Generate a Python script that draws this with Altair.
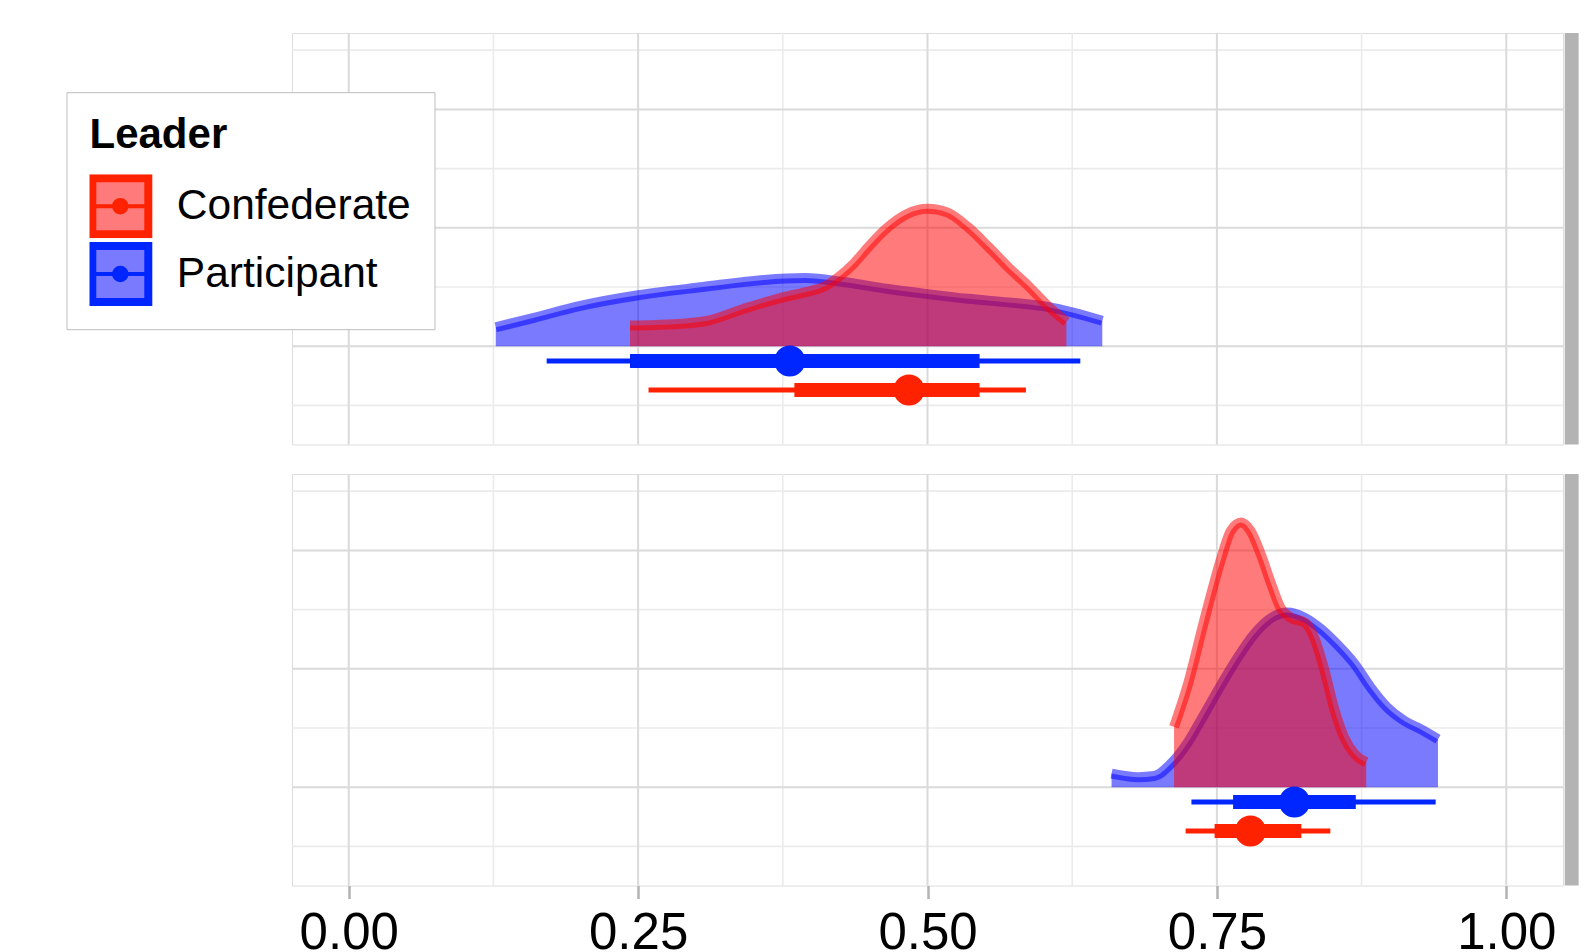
import altair as alt
import pandas as pd

# ---------------- data ----------------
LEADERS = ["Confederate", "Participant"]
PANELS = ["top", "bottom"]

# density slabs (x = proportion, h = slab height in gridline units)
top_conf_x = [0.243, 0.265, 0.288, 0.310, 0.341, 0.376, 0.394, 0.412, 0.422, 0.436, 0.450,
              0.464, 0.482, 0.500, 0.517, 0.535, 0.553, 0.570, 0.588, 0.605, 0.620]
top_conf_h = [0.35, 0.36, 0.38, 0.43, 0.63, 0.83, 0.91, 1.02, 1.15, 1.39, 1.70,
              1.98, 2.23, 2.32, 2.26, 2.01, 1.67, 1.33, 1.00, 0.66, 0.41]

top_part_x = [0.127, 0.160, 0.200, 0.250, 0.306, 0.359, 0.394, 0.429, 0.465, 0.500,
              0.535, 0.570, 0.605, 0.651]
top_part_h = [0.32, 0.48, 0.68, 0.86, 1.00, 1.12, 1.15, 1.08, 0.97, 0.88,
              0.80, 0.74, 0.66, 0.43]

bot_conf_x = [0.713, 0.725, 0.739, 0.754, 0.762, 0.771, 0.779, 0.788, 0.797,
              0.805, 0.814, 0.826, 0.834, 0.843, 0.851, 0.860, 0.869, 0.879]
bot_conf_h = [1.02, 1.74, 2.81, 3.88, 4.33, 4.47, 4.33, 3.93, 3.43,
              3.03, 2.86, 2.78, 2.53, 1.97, 1.35, 0.84, 0.56, 0.42]

bot_part_x = [0.659, 0.682, 0.696, 0.710, 0.725, 0.739, 0.754, 0.768, 0.782, 0.797,
              0.811, 0.826, 0.840, 0.854, 0.869, 0.883, 0.897, 0.912, 0.926, 0.941]
bot_part_h = [0.23, 0.17, 0.19, 0.39, 0.76, 1.23, 1.74, 2.19, 2.58, 2.86,
              2.95, 2.86, 2.67, 2.41, 2.08, 1.68, 1.35, 1.12, 0.98, 0.81]

# point intervals: panel, leader, row position, 95% and 66% intervals, median
iv_panel = ["top", "top", "bottom", "bottom"]
iv_leader = ["Participant", "Confederate", "Participant", "Confederate"]
iv_row = [0.75, 0.26, 0.75, 0.26]
iv_lo95 = [0.171, 0.259, 0.728, 0.723]
iv_hi95 = [0.632, 0.585, 0.939, 0.848]
iv_lo66 = [0.243, 0.385, 0.764, 0.748]
iv_hi66 = [0.545, 0.545, 0.870, 0.823]
iv_med = [0.381, 0.484, 0.817, 0.779]

x_major = [0.0, 0.25, 0.5, 0.75, 1.0]
x_minor = [0.125, 0.375, 0.625, 0.875]
y_major = [1, 3, 5]
y_minor = [0, 2, 4, 6]

X_DOMAIN = [-0.049, 1.049]
Y_DOMAIN = [-0.66, 6.29]
BASELINE = 1.0
STRIP = [1.0505, 1.0625]

FILL_COLORS = ["rgba(255,0,0,0.52)", "rgba(0,0,255,0.52)"]
POINT_COLORS = ["#FF2200", "#0026FF"]
FONT = "Liberation Sans"

# ---------------- tables ----------------
dens_rows = []
for panel, leader, xs, hs in [
    ("top", "Confederate", top_conf_x, top_conf_h),
    ("top", "Participant", top_part_x, top_part_h),
    ("bottom", "Confederate", bot_conf_x, bot_conf_h),
    ("bottom", "Participant", bot_part_x, bot_part_h),
]:
    for x, h in zip(xs, hs):
        dens_rows.append({"panel": panel, "Leader": leader, "x": x,
                          "top": BASELINE + h, "base": BASELINE})
dens = pd.DataFrame(dens_rows)

iv = pd.DataFrame({"panel": iv_panel, "Leader": iv_leader, "row": iv_row,
                   "lo95": iv_lo95, "hi95": iv_hi95, "lo66": iv_lo66,
                   "hi66": iv_hi66, "med": iv_med})

xs_ = alt.Scale(domain=X_DOMAIN, nice=False, zero=False)
ys_ = alt.Scale(domain=Y_DOMAIN, nice=False, zero=False)

# legend key: framed square, light fill, line with a dot through the middle
SYMBOL = ("M-1.2245,-1.2245H1.2245V1.2245H-1.2245Z "
          "M-1.0612,-1.0612H1.0612V1.0612H-1.0612Z "
          "M-1.0612,0H1.0612 "
          "M-0.2571,0A0.2571,0.2571,0,1,0,0.2571,0A0.2571,0.2571,0,1,0,-0.2571,0Z "
          "M-0.0939,0A0.0939,0.0939,0,1,0,0.0939,0A0.0939,0.0939,0,1,0,-0.0939,0Z")

legend = alt.Legend(
    title="Leader", orient="none", legendX=-225.5, legendY=59.2,
    symbolType=SYMBOL, symbolSize=2401, symbolStrokeWidth=4, symbolOpacity=1,
    symbolOffset=4.3, clipHeight=64,
    labelFont=FONT, labelFontSize=42.5, labelColor="black", labelOffset=30,
    labelLimit=600,
    titleFont=FONT, titleFontSize=42, titleFontWeight="bold", titleColor="black",
    titlePadding=17, padding=23, rowPadding=3.8,
    fillColor="white", strokeColor="#BDBDBD",
)

fill_enc = alt.Fill("Leader:N", scale=alt.Scale(domain=LEADERS, range=FILL_COLORS),
                    legend=legend)
stroke_enc = alt.Stroke("Leader:N", scale=alt.Scale(domain=LEADERS, range=POINT_COLORS),
                        legend=legend)
color_enc = alt.Color("Leader:N", scale=alt.Scale(domain=LEADERS, range=POINT_COLORS),
                      legend=None)


def make_panel(panel, show_axis):
    if show_axis:
        ax = alt.Axis(values=x_major, format=".2f", labelFont=FONT, labelFontSize=51,
                      labelColor="black", tickColor="#B3B3B3", tickWidth=2.5,
                      tickSize=13, labelPadding=10, domain=False, grid=False, title=None)
    else:
        ax = None

    def X(f):
        return alt.X(f, scale=xs_, axis=ax, title=None)

    def Y(f):
        return alt.Y(f, scale=ys_, axis=None, title=None)

    layers = []
    layers.append(alt.Chart(pd.DataFrame({"g": x_minor})).mark_rule(
        color="#EBEBEB", strokeWidth=1.6).encode(x=X("g:Q")))
    layers.append(alt.Chart(pd.DataFrame({"g": y_minor})).mark_rule(
        color="#EBEBEB", strokeWidth=1.6).encode(y=Y("g:Q")))
    layers.append(alt.Chart(pd.DataFrame({"g": x_major})).mark_rule(
        color="#DADADA", strokeWidth=2).encode(x=X("g:Q")))
    layers.append(alt.Chart(pd.DataFrame({"g": y_major})).mark_rule(
        color="#DADADA", strokeWidth=2).encode(y=Y("g:Q")))

    for leader, col in [("Participant", FILL_COLORS[1]), ("Confederate", FILL_COLORS[0])]:
        d = dens[(dens.panel == panel) & (dens.Leader == leader)]
        layers.append(alt.Chart(d).mark_area(interpolate="monotone").encode(
            x=X("x:Q"), y=Y("top:Q"), y2="base:Q", fill=fill_enc))
        layers.append(alt.Chart(d).mark_line(
            interpolate="monotone", stroke=col, strokeWidth=10).encode(
            x=X("x:Q"), y=Y("top:Q")))

    d = iv[iv.panel == panel]
    layers.append(alt.Chart(d).mark_rule(strokeWidth=5).encode(
        x=X("lo95:Q"), x2="hi95:Q", y=Y("row:Q"), stroke=stroke_enc))
    layers.append(alt.Chart(d).mark_rule(strokeWidth=14).encode(
        x=X("lo66:Q"), x2="hi66:Q", y=Y("row:Q"), stroke=stroke_enc))
    layers.append(alt.Chart(d).mark_circle(size=962, opacity=1).encode(
        x=X("med:Q"), y=Y("row:Q"), color=color_enc))

    strip = pd.DataFrame({"x0": [STRIP[0]], "x1": [STRIP[1]],
                          "y0": [Y_DOMAIN[0]], "y1": [Y_DOMAIN[1]]})
    layers.append(alt.Chart(strip).mark_rect(color="#B3B3B3").encode(
        x=X("x0:Q"), x2="x1:Q", y=Y("y0:Q"), y2="y1:Q"))

    return alt.layer(*layers).properties(width=1271, height=411.5)


chart = alt.vconcat(
    make_panel("top", False), make_panel("bottom", True), spacing=26
).properties(
    padding={"top": 23, "left": 58, "right": 0, "bottom": 0}
).configure_view(
    stroke="#B3B3B3", strokeWidth=2.5
).configure_legend(
    strokeWidth=3
).configure(
    font=FONT
)

chart.save("out.html", embed_options={"renderer": "svg", "actions": False})
